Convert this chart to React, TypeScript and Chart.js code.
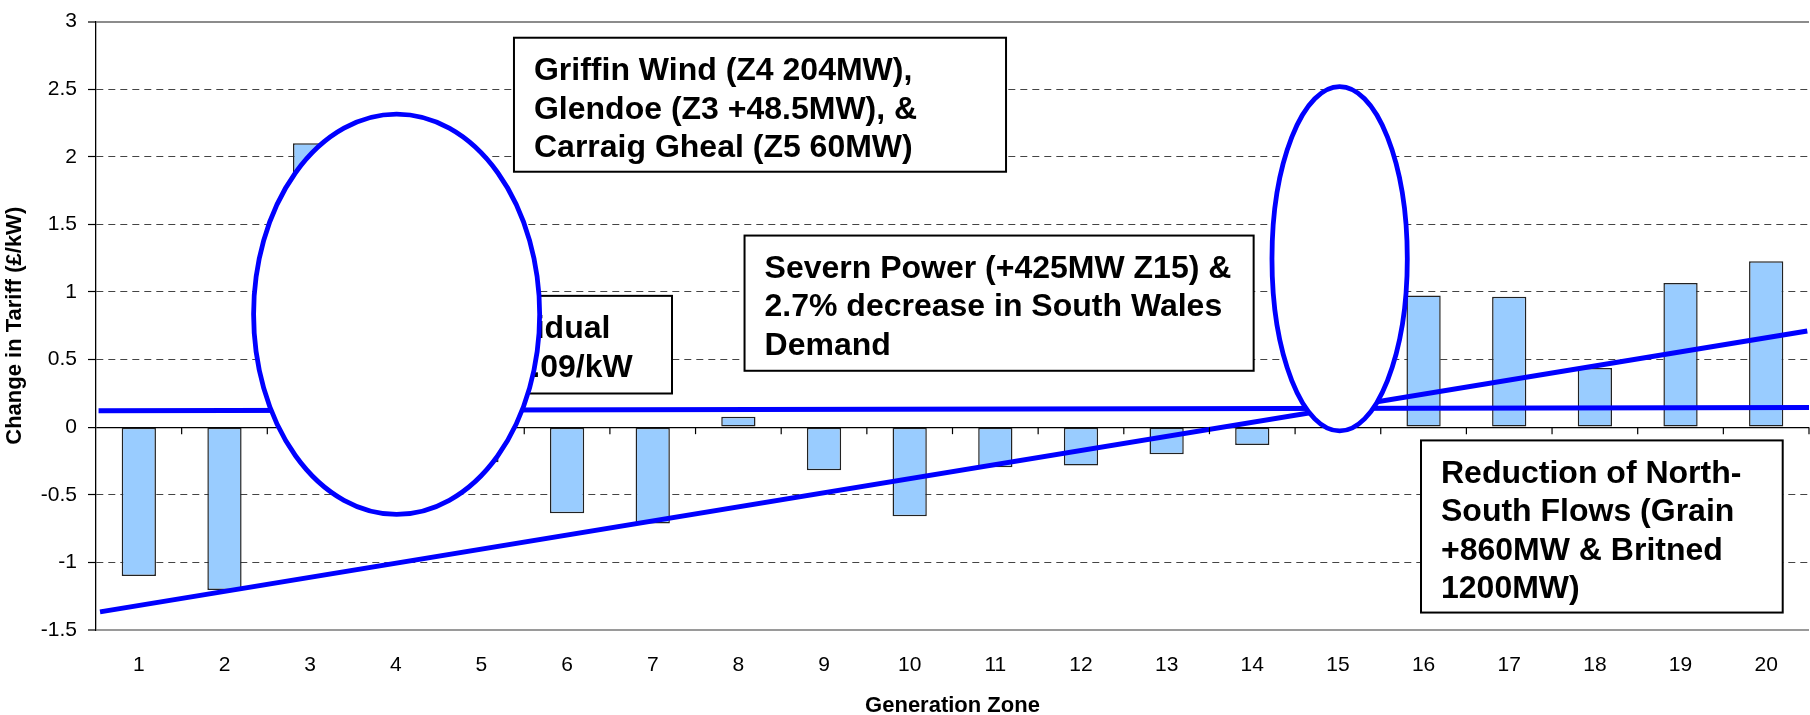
import React, { useEffect, useRef } from 'react';
import { Chart, registerables } from 'chart.js';

Chart.register(...registerables);

// ---- data ----
const zones: string[] = ['1', '2', '3', '4', '5', '6', '7', '8', '9', '10', '11', '12', '13', '14', '15', '16', '17', '18', '19', '20'];
const tariffChange: number[] = [-1.1, -1.205, 2.1, 0.35, -0.26, -0.637, -0.712, 0.077, -0.318, -0.659, -0.297, -0.284, -0.2, -0.131, 0.6, 0.974, 0.964, 0.437, 1.066, 1.227];
// straight annotation lines, x in zone units (zone k centred on k)
const residualLine = [{ x: 0.53, y: 0.121 }, { x: 20.5, y: 0.146 }];
const trendLine = [{ x: 0.547, y: -1.366 }, { x: 20.48, y: 0.711 }];
const yMin = -1.5;
const yMax = 3;
const yStep = 0.5;
// ellipses in data units: centre zone, centre value, radius in zones, radius in value
const ellipseCx = [4.01, 15.02];
const ellipseCy = [0.835, 1.245];
const ellipseRx = [1.67, 0.79];
const ellipseRy = [1.48, 1.273];
// note boxes (data units)
const noteLines: string[][] = [
  ['Residual', '+£0.09/kW'],
  ['Griffin Wind (Z4 204MW),', 'Glendoe (Z3 +48.5MW), &', 'Carraig Gheal (Z5 60MW)'],
  ['Severn Power (+425MW Z15) &', '2.7% decrease in South Wales', 'Demand'],
  ['Reduction of North-', 'South Flows (Grain', '+860MW & Britned', '1200MW)'],
];
const noteX0 = [4.715, 5.38, 8.072, 15.97];
const noteX1 = [7.225, 11.125, 14.016, 20.193];
const noteYTop = [0.971, 2.88, 1.417, -0.098];
const noteYBot = [0.249, 1.889, 0.417, -1.371];

const FONT = '"Liberation Sans", Arial, sans-serif';

function drawNote(ctx: CanvasRenderingContext2D, xs: any, ys: any, i: number) {
  const l = xs.getPixelForValue(noteX0[i]);
  const r = xs.getPixelForValue(noteX1[i]);
  const t = ys.getPixelForValue(noteYTop[i]);
  const b = ys.getPixelForValue(noteYBot[i]);
  ctx.save();
  ctx.fillStyle = '#fff';
  ctx.fillRect(l, t, r - l, b - t);
  ctx.strokeStyle = '#000';
  ctx.lineWidth = 2;
  ctx.strokeRect(l, t, r - l, b - t);
  ctx.fillStyle = '#000';
  ctx.font = 'bold 32px ' + FONT;
  ctx.textBaseline = 'alphabetic';
  ctx.textAlign = 'left';
  noteLines[i].forEach((s, k) => {
    ctx.fillText(s, l + 20, t + 42.5 + k * 38.3);
  });
  ctx.restore();
}

const overlayPlugin = {
  id: 'overlay',
  afterDatasetsDraw(chart: any) {
    const { ctx } = chart;
    const xs = chart.scales.x;
    const ys = chart.scales.y;
    // tick marks on the zero axis line, at zone boundaries
    const y0 = ys.getPixelForValue(0);
    ctx.save();
    ctx.strokeStyle = '#000';
    ctx.lineWidth = 1.2;
    for (let k = 1; k <= zones.length; k++) {
      const x = xs.getPixelForValue(k + 0.5);
      ctx.beginPath();
      ctx.moveTo(x, y0);
      ctx.lineTo(x, y0 + 7);
      ctx.stroke();
    }
    ctx.restore();
    // note partly hidden under the first ellipse
    drawNote(ctx, xs, ys, 0);
    // ellipses
    for (let i = 0; i < ellipseCx.length; i++) {
      const cx = xs.getPixelForValue(ellipseCx[i]);
      const cy = ys.getPixelForValue(ellipseCy[i]);
      const rx = Math.abs(xs.getPixelForValue(ellipseCx[i] + ellipseRx[i]) - cx);
      const ry = Math.abs(ys.getPixelForValue(ellipseCy[i] + ellipseRy[i]) - cy);
      ctx.save();
      ctx.beginPath();
      ctx.ellipse(cx, cy, rx, ry, 0, 0, Math.PI * 2);
      ctx.fillStyle = '#fff';
      ctx.fill();
      ctx.strokeStyle = '#0000ff';
      ctx.lineWidth = 4.8;
      ctx.stroke();
      ctx.restore();
    }
    for (let i = 1; i < noteLines.length; i++) drawNote(ctx, xs, ys, i);
  },
};

const isV = (v: number, t: number) => Math.abs(v - t) < 1e-6;

export default function App() {
  const ref = useRef<HTMLCanvasElement>(null);
  useEffect(() => {
    document.body.style.margin = '0';
    Chart.defaults.font.family = FONT;
    Chart.defaults.color = '#000';
    const barData = tariffChange.map((v, i) => ({ x: i + 1, y: v }));
    const chart = new Chart(ref.current as HTMLCanvasElement, {
      type: 'bar',
      data: {
        datasets: [
          {
            type: 'bar',
            data: barData,
            backgroundColor: '#99ccff',
            borderColor: '#222',
            borderWidth: 1.5,
            borderSkipped: false,
            barPercentage: 0.4,
            categoryPercentage: 1,
            grouped: false,
            order: 2,
          } as any,
          {
            type: 'line',
            data: residualLine,
            borderColor: '#0000ff',
            borderWidth: 5,
            pointRadius: 0,
            order: 1,
          } as any,
          {
            type: 'line',
            data: trendLine,
            borderColor: '#0000ff',
            borderWidth: 5,
            pointRadius: 0,
            order: 1,
          } as any,
        ],
      },
      options: {
        animation: false,
        responsive: false,
        maintainAspectRatio: false,
        layout: { padding: { top: 12.5, right: 1, left: 0, bottom: 0 } },
        plugins: { legend: { display: false }, tooltip: { enabled: false } },
        scales: {
          x: {
            type: 'linear',
            min: 0.5,
            max: 20.5,
            offset: false,
            bounds: 'data',
            grid: { display: false, drawTicks: false, offset: false },
            border: { display: false },
            afterBuildTicks: (s: any) => {
              s.ticks = zones.map((_, i) => ({ value: i + 1 }));
            },
            ticks: {
              font: { size: 21, lineHeight: 1 },
              padding: 25,
              color: '#000',
              maxRotation: 0,
              autoSkip: false,
              callback: (_v: any, i: number) => zones[i],
            },
            title: {
              display: true,
              text: 'Generation Zone',
              color: '#000',
              font: { size: 22, weight: 'bold', lineHeight: 0.8 },
              padding: { top: 0, bottom: 0 },
            },
            afterFit: (s: any) => {
              s.height = 85;
            },
          },
          y: {
            type: 'linear',
            min: yMin,
            max: yMax,
            ticks: {
              stepSize: yStep,
              font: { size: 21, lineHeight: 1 },
              padding: 11,
              color: '#000',
              callback: (v: any) => String(Math.round(Number(v) * 100) / 100),
            },
            grid: {
              color: (c: any) => {
                const v = c.tick ? c.tick.value : NaN;
                if (isV(v, 0)) return '#000';
                if (isV(v, yMax)) return '#8c8c8c';
                if (isV(v, yMin)) return '#9a9a9a';
                return '#444';
              },
              lineWidth: (c: any) => {
                const v = c.tick ? c.tick.value : NaN;
                if (isV(v, yMax) || isV(v, yMin)) return 2;
                if (isV(v, 0)) return 1.2;
                return 1;
              },
              tickColor: '#000',
              tickLength: 8,
              tickWidth: 1.2,
              drawTicks: true,
            },
            border: {
              display: true,
              color: '#000',
              width: 1.3,
              dash: (c: any) => {
                const v = c.tick ? c.tick.value : NaN;
                if (isV(v, 0) || isV(v, yMax) || isV(v, yMin)) return [];
                return [7, 5];
              },
            },
            title: {
              display: true,
              text: 'Change in Tariff (£/kW)',
              color: '#000',
              font: { size: 22, weight: 'bold', lineHeight: 1 },
              padding: { top: 4, bottom: 0 },
            },
            afterFit: (s: any) => {
              s.width = 96;
            },
          },
        } as any,
      },
      plugins: [overlayPlugin],
    });
    return () => chart.destroy();
  }, []);
  return (
    <div style={{ position: 'absolute', left: 0, top: 0, width: 1810, height: 715, background: '#fff' }}>
      <canvas ref={ref} width={1810} height={715} style={{ display: 'block', width: 1810, height: 715 }} />
    </div>
  );
}
